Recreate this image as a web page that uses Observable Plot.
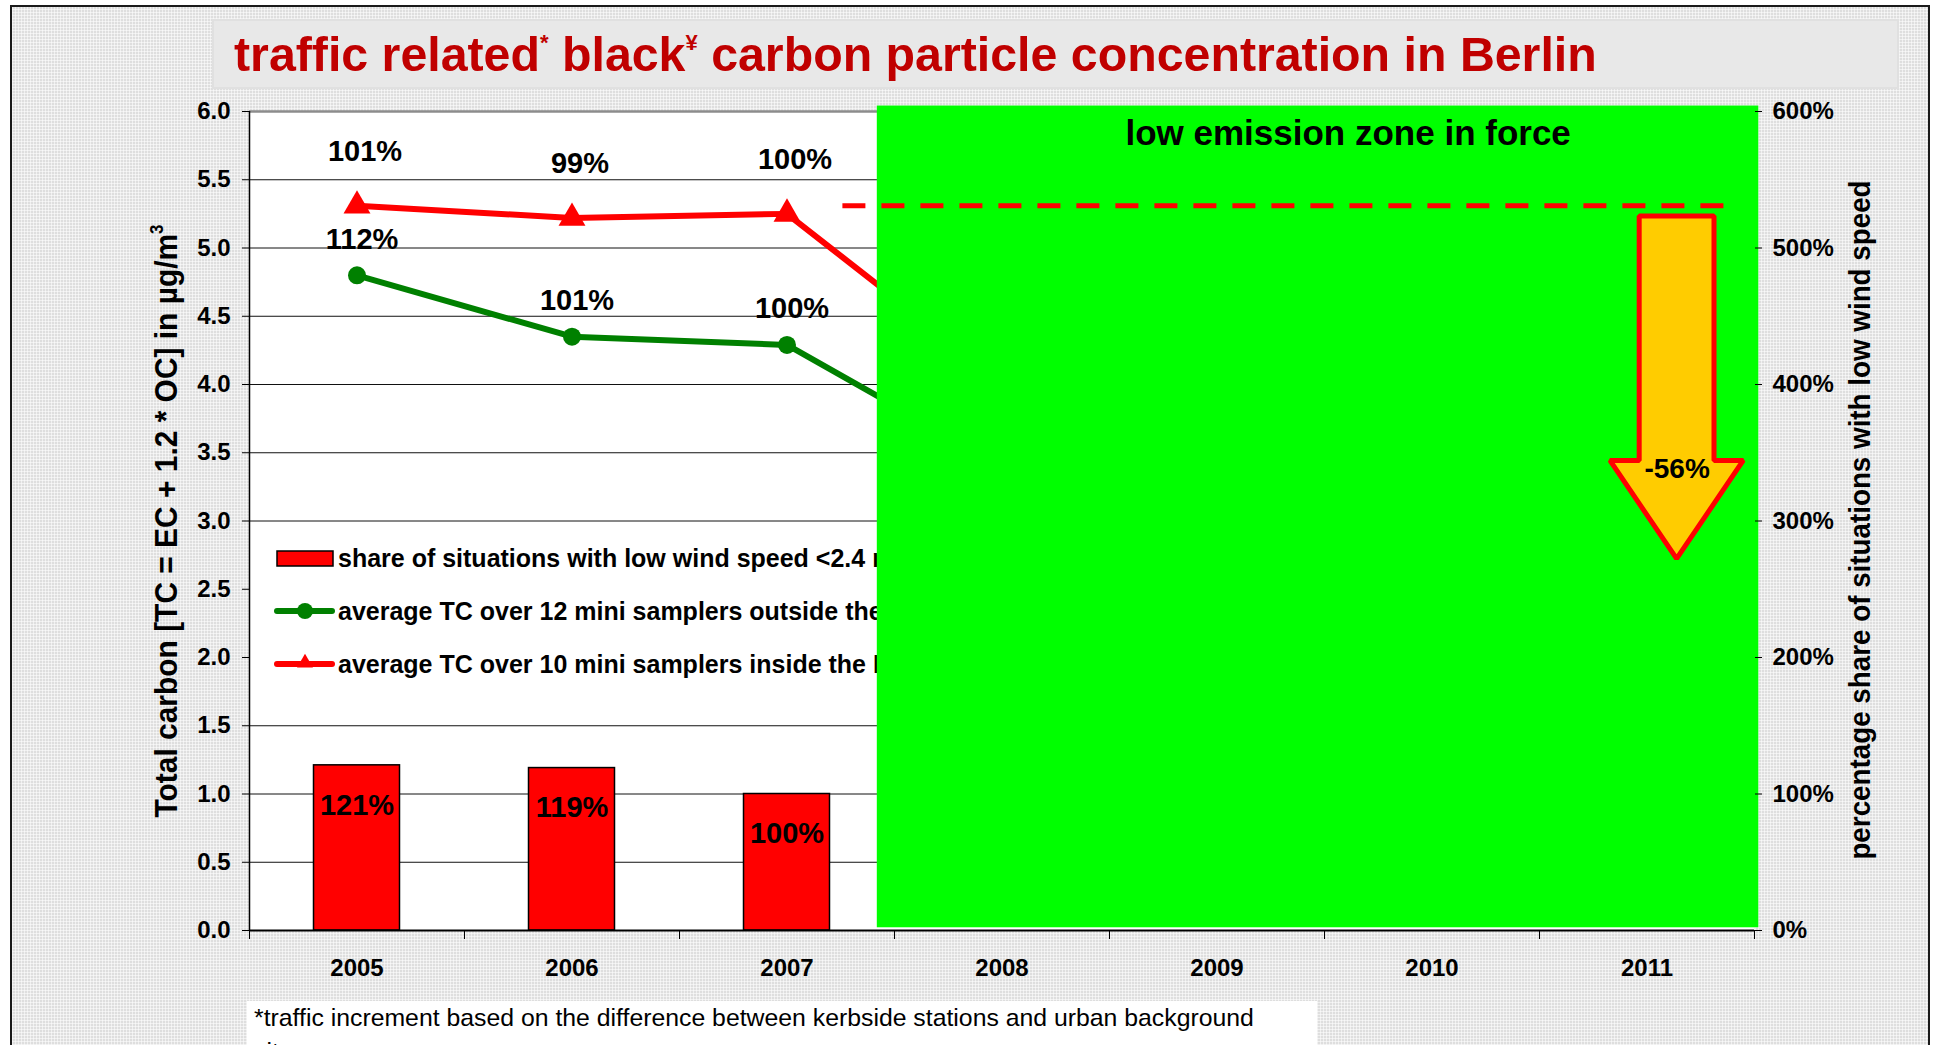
<!DOCTYPE html>
<html>
<head>
<meta charset="utf-8">
<script src="https://cdn.jsdelivr.net/npm/d3@7"></script>
<script src="https://cdn.jsdelivr.net/npm/@observablehq/plot@0.6"></script>
<style>
  html, body { margin: 0; padding: 0; width: 1934px; height: 1045px; overflow: hidden; background: #fff;
    font-family: "Liberation Sans", Arial, Helvetica, sans-serif; }
  #frame { position: absolute; left: 10px; top: 5px; width: 1920px; height: 1100px; box-sizing: border-box;
    border: 2px solid #1a1a1a; background-color: #dedede;
    background-image:
      linear-gradient(90deg, rgba(255,255,255,0.55) 1px, transparent 1px),
      linear-gradient(0deg, rgba(255,255,255,0.55) 1px, transparent 1px);
    background-size: 3px 3px; }
  #titlebox { position: absolute; left: 212px; top: 19px; width: 1687px; height: 70px; box-sizing: border-box;
    background: #e8e8e8; border: 2px solid #e0e0e0; }
  #title { position: absolute; left: 234px; top: 19px; height: 70px; line-height: 70px; font-size: 48.3px;
    font-weight: bold; color: #c00000; white-space: nowrap; }
  #title sup { font-size: 22px; line-height: 0; vertical-align: 21px; }
  #chart { position: absolute; left: 0; top: 0; }
  .axtitle { position: absolute; white-space: nowrap; font-weight: bold; color: #000; }
  #ylab { left: 166px; top: 521px; font-size: 32px; transform: translate(-50%, -50%) rotate(-90deg) scaleX(0.935); }
  #ylab2 { left: 1860px; top: 520px; font-size: 30px; transform: translate(-50%, -50%) rotate(-90deg) scaleX(0.926); }
  #ylab sup { font-size: 18px; line-height: 0; vertical-align: 14px; }
  #footbox { position: absolute; left: 247px; top: 1001px; width: 1070px; height: 60px; background: #fff; }
  #foot { position: absolute; left: 7px; top: 0px; width: 1030px; font-size: 24.8px; line-height: 34px; color: #000; }
</style>
</head>
<body>
<div id="frame"></div>
<div id="titlebox"></div>
<div id="title">traffic related<sup>*</sup> black<sup>¥</sup> carbon particle concentration in Berlin</div>
<div id="chart"></div>
<div class="axtitle" id="ylab">Total carbon [TC = EC + 1.2 * OC] in µg/m<sup>3</sup></div>
<div class="axtitle" id="ylab2">percentage share of situations with low wind speed</div>
<div id="footbox"><div id="foot">*traffic increment based on the difference between kerbside stations and urban background sites</div></div>
<script>
// ---------------- data ----------------
const years = [2005, 2006, 2007, 2008, 2009, 2010, 2011];
const barYears = [2005, 2006, 2007];
const lowWindShare = [121, 119, 100];            // % share of situations with low wind speed
const lineYears = [2005, 2006, 2007, 2008];
const tcOutside = [4.80, 4.35, 4.29, 3.40];      // µg/m³, 12 mini samplers outside the LEZ
const tcOutsideLabels = ["112%", "101%", "100%", ""];
const tcInside = [5.31, 5.22, 5.25, 4.02];       // µg/m³, 10 mini samplers inside the LEZ
const tcInsideLabels = ["101%", "99%", "100%", ""];
const leftTicks = [0, 0.5, 1, 1.5, 2, 2.5, 3, 3.5, 4, 4.5, 5, 5.5, 6];
const rightTicks = [0, 100, 200, 300, 400, 500, 600];
const legendLabels = [
  "share of situations with low wind speed <2.4 m/s",
  "average TC over 12 mini samplers outside the LEZ",
  "average TC over 10 mini samplers inside the LEZ"
];
const lezLabel = "low emission zone in force";
const reductionLabel = "-56%";

// ---------------- tables ----------------
const FONT = '"Liberation Sans", Arial, Helvetica, sans-serif';
const bars = barYears.map((year, i) => ({year, share: lowWindShare[i]}));
const outside = lineYears.map((year, i) => ({year, tc: tcOutside[i], label: tcOutsideLabels[i]}));
const inside = lineYears.map((year, i) => ({year, tc: tcInside[i], label: tcInsideLabels[i]}));
const boundaries = [...years.map(y => y - 0.5), years[years.length - 1] + 0.5];

// annotation geometry (in scale units)
const lez = {x1: 2007.42, x2: 2011.52, y1: 0.02, y2: 6.04, lx: 2009.61, ly: 5.84};
const refLine = {y: tcInside[0], x1: 2007.26, x2: 2011.38};
const ac = 2011.14, shaft = 0.174, head = 0.31;
const arrow = [
  {y: 5.23, x1: ac - shaft, x2: ac + shaft},
  {y: 3.44, x1: ac - shaft, x2: ac + shaft},
  {y: 3.44, x1: ac - head, x2: ac + head},
  {y: 2.72, x1: ac, x2: ac}
];

function legendMark(index, scales, values, dims) {
  const g = d3.create("svg:g")
    .attr("font-family", FONT).attr("font-size", 25).attr("font-weight", "bold").attr("text-anchor", "start");
  const left = dims.marginLeft;
  const top = dims.marginTop;
  g.append("rect").attr("x", left + 1).attr("y", top + 418).attr("width", 660).attr("height", 186).attr("fill", "white");
  legendLabels.forEach((label, i) => {
    const cy = top + 447 + i * 53;
    if (i === 0) {
      g.append("rect").attr("x", left + 28).attr("y", cy - 7).attr("width", 56).attr("height", 15)
        .attr("fill", "#ff0000").attr("stroke", "#000").attr("stroke-width", 1.5);
    } else {
      const col = i === 1 ? "#008000" : "#ff0000";
      g.append("line").attr("x1", left + 28).attr("x2", left + 83).attr("y1", cy).attr("y2", cy)
        .attr("stroke", col).attr("stroke-width", 6).attr("stroke-linecap", "round");
      if (i === 1) g.append("circle").attr("cx", left + 56).attr("cy", cy).attr("r", 8).attr("fill", col);
      else g.append("path").attr("transform", `translate(${left + 56},${cy - 1})`)
        .attr("d", d3.symbol(d3.symbolTriangle, 110)()).attr("fill", col);
    }
    g.append("text").attr("x", left + 89).attr("y", cy).attr("dy", "0.35em").attr("fill", "#000")
      .attr("text-anchor", "start").text(label);
  });
  return g.node();
}

const chart = Plot.plot({
  width: 1934,
  height: 1000,
  marginLeft: 249,
  marginRight: 180,
  marginTop: 111,
  marginBottom: 70,
  style: {background: "transparent", fontFamily: FONT, fontWeight: "bold", fontSize: "24px", color: "#000", overflow: "visible"},
  x: {domain: [2004.5, 2011.5]},
  y: {domain: [0, 6]},
  marks: [
    Plot.frame({fill: "white", stroke: "none"}),
    Plot.ruleY(leftTicks.filter(d => d > 0 && d < 6), {stroke: "#111", strokeWidth: 1}),
    Plot.ruleY([6], {stroke: "#8c8c8c", strokeWidth: 2.5}),
    legendMark,
    Plot.rect(bars, {x1: d => d.year - 0.2, x2: d => d.year + 0.2, y1: 0, y2: d => d.share / 100,
      fill: "#ff0000", stroke: "#000", strokeWidth: 1.5}),
    Plot.text(bars, {x: "year", y: d => d.share / 100, text: d => d.share + "%", dy: 40, fontSize: 29, fill: "#000"}),
    Plot.line(outside, {x: "year", y: "tc", stroke: "#008000", strokeWidth: 6}),
    Plot.line(inside, {x: "year", y: "tc", stroke: "#ff0000", strokeWidth: 6}),
    Plot.dot(outside, {x: "year", y: "tc", r: 9, fill: "#008000", symbol: "circle"}),
    Plot.dot(inside, {x: "year", y: "tc", r: 10, fill: "#ff0000", symbol: "triangle"}),
    Plot.text(inside.filter(d => d.label), {x: "year", y: "tc", text: "label", dy: -54, dx: 8, fontSize: 29, fill: "#000"}),
    Plot.text(outside.filter(d => d.label), {x: "year", y: "tc", text: "label", dy: -36, dx: 5, fontSize: 29, fill: "#000"}),
    Plot.rect([lez], {x1: "x1", x2: "x2", y1: "y1", y2: "y2", fill: "#00ff00"}),
    Plot.text([lez], {x: "lx", y: "ly", text: () => lezLabel, fontSize: 35, fill: "#000"}),
    Plot.ruleY([refLine], {y: "y", x1: "x1", x2: "x2", stroke: "#ff0000", strokeWidth: 5, strokeDasharray: "23,16"}),
    Plot.areaX(arrow, {y: "y", x1: "x1", x2: "x2", fill: "#ffcc00", stroke: "#ff0000", strokeWidth: 5, strokeLinejoin: "miter"}),
    Plot.text([{x: ac, y: 3.38}], {x: "x", y: "y", text: () => reductionLabel, fontSize: 28, fill: "#000"}),
    Plot.ruleY([0], {stroke: "#000", strokeWidth: 2}),
    Plot.ruleX([2004.5], {y1: 0, y2: 6, stroke: "#000", strokeWidth: 1.5}),
    Plot.axisY(leftTicks, {anchor: "left", tickSize: 7, tickPadding: 12, tickFormat: d3.format(".1f"),
      label: null, fontSize: 24, fontWeight: "bold"}),
    Plot.axisY(rightTicks.map(d => d / 100), {anchor: "right", tickSize: 7, tickPadding: 11,
      tickFormat: d => Math.round(d * 100) + "%", label: null, fontSize: 24, fontWeight: "bold"}),
    Plot.axisX(years, {anchor: "bottom", tickSize: 0, tickPadding: 28, tickFormat: d => String(d),
      label: null, fontSize: 24, fontWeight: "bold"}),
    Plot.axisX(boundaries, {anchor: "bottom", tickSize: 9, tickFormat: () => "", label: null})
  ]
});
document.getElementById("chart").appendChild(chart);
</script>
</body>
</html>
